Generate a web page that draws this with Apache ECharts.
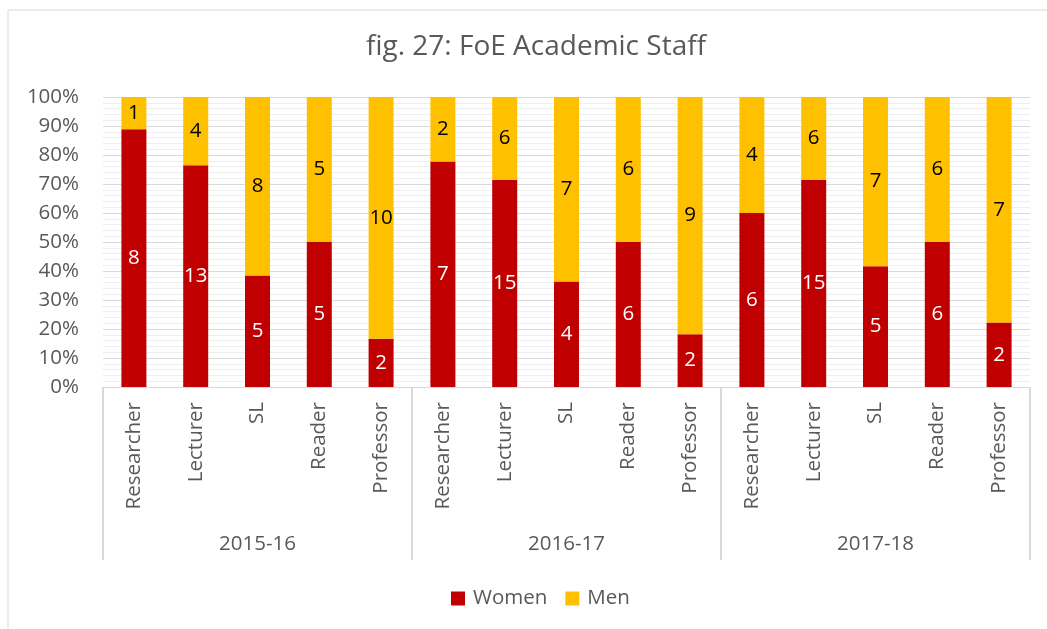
<!DOCTYPE html>
<html>
<head>
<meta charset="utf-8">
<script src="https://cdn.jsdelivr.net/npm/echarts@6/dist/echarts.min.js"></script>
<style>
  html, body { margin: 0; padding: 0; background: #fff; }
  #main { width: 1047px; height: 629px; }
</style>
</head>
<body>
<div id="main"></div>
<script>
// roles repeat for each academic year
const roles = ['Researcher', 'Lecturer', 'SL', 'Reader', 'Professor'];
const years = ['2015-16', '2016-17', '2017-18'];
// headcounts, year by year, same order as roles
const women = [8, 13, 5, 5, 2, 7, 15, 4, 6, 2, 6, 15, 5, 6, 2];
const men = [1, 4, 8, 5, 10, 2, 6, 7, 6, 9, 4, 6, 7, 6, 7];
const yTicks = [0, 0.1, 0.2, 0.3, 0.4, 0.5, 0.6, 0.7, 0.8, 0.9, 1];

const categories = [];
years.forEach(() => roles.forEach(r => categories.push(r)));

// 100% stacked: share of each group, label keeps the count
const share = (arr, i) => arr[i] / (women[i] + men[i]);
const womenData = women.map((v, i) => ({ value: share(women, i), count: v }));
const menData = men.map((v, i) => ({ value: share(men, i), count: v }));

const font = 'Open Sans';
const grey = '#595959';
const lineGrey = '#d9d9d9';
const fs = 20.5;

const chart = echarts.init(document.getElementById('main'));
chart.setOption({
  animation: false,
  textStyle: { fontFamily: font },
  title: {
    text: 'fig. 27: FoE Academic Staff',
    left: 361,
    top: 28,
    textStyle: { fontFamily: font, fontSize: 28, fontWeight: 'normal', color: grey }
  },
  legend: {
    bottom: 15,
    left: 446,
    itemWidth: 14,
    itemHeight: 14,
    itemGap: 18,
    icon: 'rect',
    textStyle: { fontFamily: font, fontSize: fs, color: grey, padding: [0, 0, 0, 3] },
    data: ['Women', 'Men']
  },
  graphic: [{
    type: 'rect',
    shape: { x: 8, y: 10, width: 1100, height: 700 },
    style: { fill: 'none', stroke: lineGrey, lineWidth: 1 },
    silent: true
  }],
  grid: { left: 103, right: 17, top: 97, bottom: 242 },
  xAxis: [{
    type: 'category',
    data: categories,
    position: 'bottom',
    axisLine: { show: true, lineStyle: { color: lineGrey } },
    axisTick: { show: false },
    axisLabel: {
      interval: 0,
      rotate: 90,
      margin: 15,
      fontFamily: font,
      fontSize: fs,
      color: grey
    }
  }, {
    type: 'category',
    data: years,
    position: 'bottom',
    axisLine: { show: false },
    axisTick: { show: true, length: 173, lineStyle: { color: lineGrey, width: 2 } },
    axisLabel: { margin: 147, fontFamily: font, fontSize: fs, color: grey },
    splitLine: { show: false }
  }],
  yAxis: {
    type: 'value',
    min: 0,
    max: 1,
    interval: 0.1,
    axisLine: { show: false },
    axisTick: { show: false },
    axisLabel: {
      margin: 24,
      fontFamily: font,
      fontSize: fs,
      color: grey,
      formatter: v => {
        const t = yTicks.find(x => Math.abs(x - v) < 1e-6);
        return Math.round((t === undefined ? v : t) * 100) + '%';
      }
    },
    splitLine: { show: true, lineStyle: { color: lineGrey } },
    minorTick: { show: false, splitNumber: 5 },
    minorSplitLine: { show: true, lineStyle: { color: '#eeeeee' } }
  },
  series: [{
    name: 'Women',
    type: 'bar',
    stack: 'all',
    barWidth: 25,
    itemStyle: { color: '#c00000' },
    label: {
      show: true,
      position: 'inside',
      color: '#fff',
      fontFamily: font,
      fontSize: fs,
      formatter: p => p.data.count
    },
    data: womenData
  }, {
    name: 'Men',
    type: 'bar',
    stack: 'all',
    barWidth: 25,
    itemStyle: { color: '#ffc000' },
    label: {
      show: true,
      position: 'inside',
      color: '#000',
      fontFamily: font,
      fontSize: fs,
      formatter: p => p.data.count
    },
    data: menData
  }]
});
</script>
</body>
</html>
